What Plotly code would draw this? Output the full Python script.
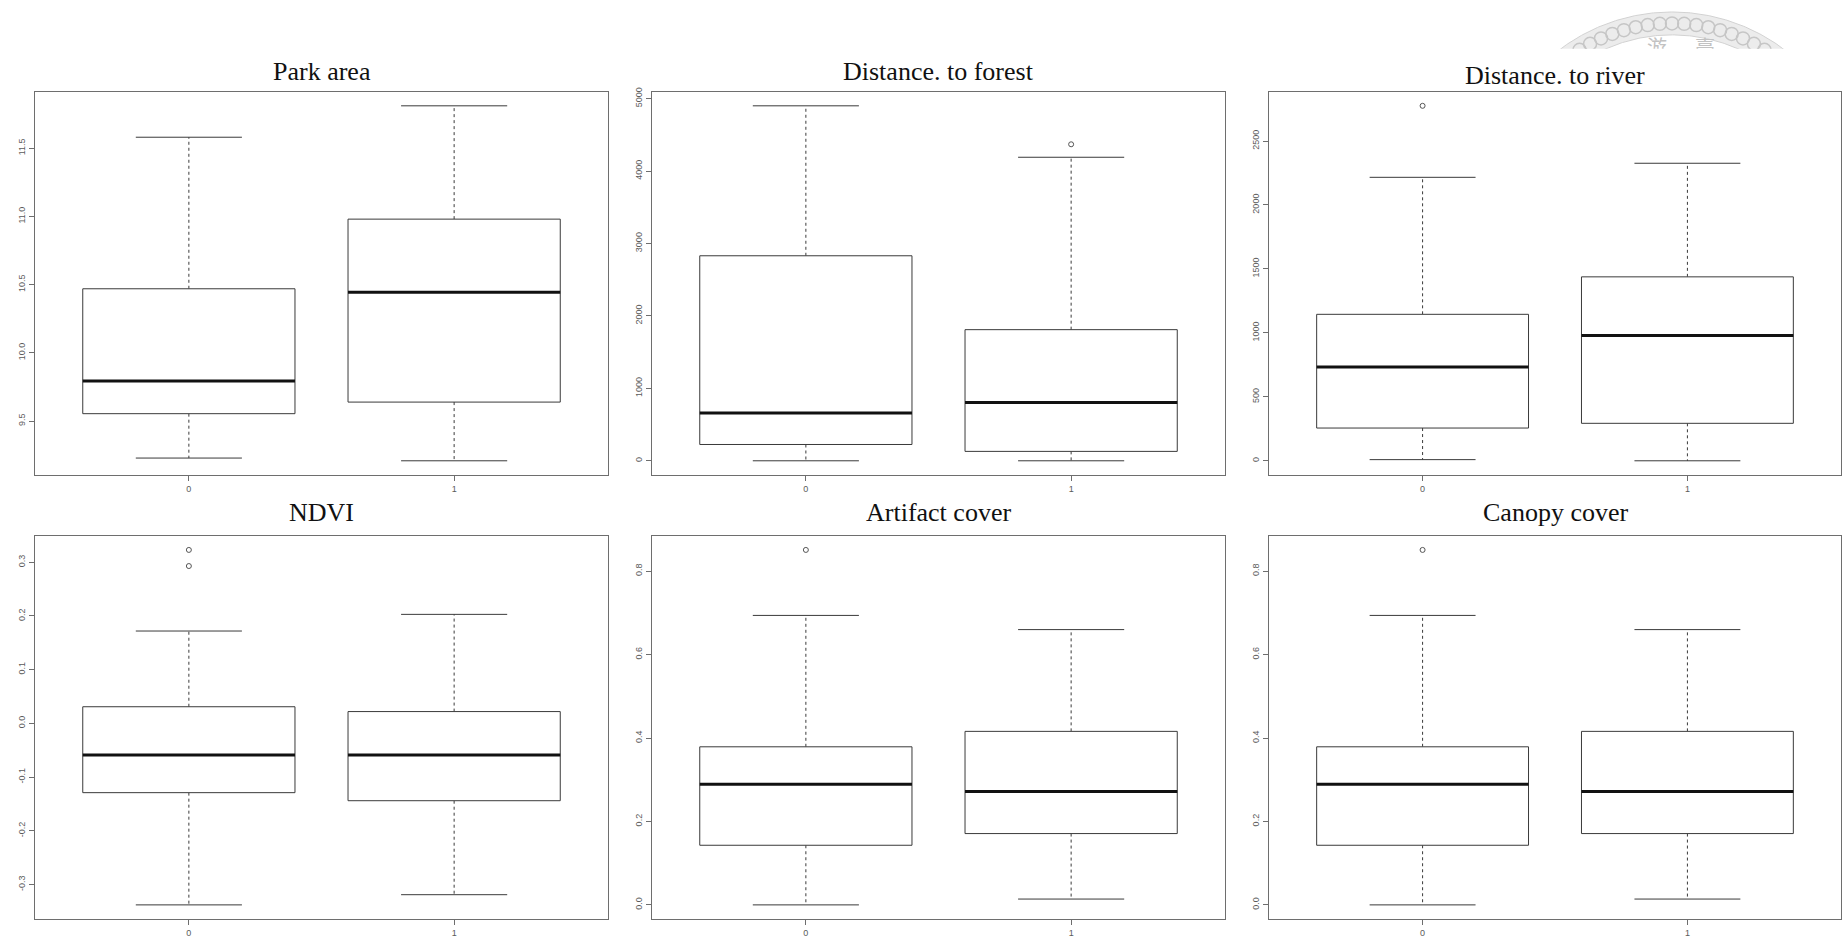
import numpy as np
import plotly.graph_objects as go

W, H = 1843, 941

# ---- data -------------------------------------------------------------
groups = [0, 1]
group_labels = ["0", "1"]

titles = ["Park area", "Distance. to forest", "Distance. to river",
          "NDVI", "Artifact cover", "Canopy cover"]

# five-number summaries per group: [lower whisker, Q1, median, Q3, upper whisker]
park_area = [[9.23, 9.555, 9.795, 10.47, 11.58],
             [9.21, 9.64, 10.445, 10.98, 11.81]]
dist_forest = [[0, 225, 660, 2830, 4900],
               [0, 130, 805, 1810, 4190]]
dist_river = [[9, 256, 733, 1145, 2216],
              [0, 293, 980, 1438, 2326]]
ndvi = [[-0.338, -0.129, -0.059, 0.031, 0.172],
        [-0.319, -0.144, -0.059, 0.022, 0.203]]
artifact_cover = [[0.0, 0.143, 0.289, 0.379, 0.694],
                  [0.014, 0.171, 0.272, 0.416, 0.660]]
canopy_cover = [[0.0, 0.143, 0.289, 0.379, 0.694],
                [0.014, 0.171, 0.272, 0.416, 0.660]]

# points beyond the whiskers, per group
park_area_out = [[], []]
dist_forest_out = [[], [4369]]
dist_river_out = [[2775], []]
ndvi_out = [[0.323, 0.293], []]
artifact_cover_out = [[0.851], []]
canopy_cover_out = [[0.851], []]

# y-axis ticks per panel
park_area_ticks = [9.5, 10.0, 10.5, 11.0, 11.5]
dist_forest_ticks = [0, 1000, 2000, 3000, 4000, 5000]
dist_river_ticks = [0, 500, 1000, 1500, 2000, 2500]
ndvi_ticks = [-0.3, -0.2, -0.1, 0.0, 0.1, 0.2, 0.3]
cover_ticks = [0.0, 0.2, 0.4, 0.6, 0.8]

panels = [
    (park_area, park_area_out, park_area_ticks, "{:.1f}"),
    (dist_forest, dist_forest_out, dist_forest_ticks, "{:.0f}"),
    (dist_river, dist_river_out, dist_river_ticks, "{:.0f}"),
    (ndvi, ndvi_out, ndvi_ticks, "{:.1f}"),
    (artifact_cover, artifact_cover_out, cover_ticks, "{:.1f}"),
    (canopy_cover, canopy_cover_out, cover_ticks, "{:.1f}"),
]

# ---- layout geometry (pixels) -----------------------------------------
cols_px = [(35, 608), (652, 1225), (1269, 1841)]
rows_px = [(88, 473), (534, 919)]
title_base = [84, 84, 88, 527, 527, 527]

BOX_HALF = 0.4
CAP_HALF = 0.2
FRAME = "#6e6e6e"
BOXLINE = "#3a3a3a"
TICKFONT = dict(family="Liberation Sans, Arial, sans-serif", size=9, color="#5a5a5a")

fig = go.Figure()
layout = dict(
    width=W, height=H,
    margin=dict(l=0, r=0, t=0, b=0),
    paper_bgcolor="white", plot_bgcolor="white",
    showlegend=False,
    annotations=[],
)


def px_x(p):
    return p / W


def px_y(p):
    return 1 - p / H


for i, (stats, outs, yt, fmt) in enumerate(panels):
    r, c = divmod(i, 3)
    k = "" if i == 0 else str(i + 1)
    xa, ya = "x" + k, "y" + k

    lo_all = min(min(s[0] for s in stats), min([v for o in outs for v in o] or [1e9]))
    hi_all = max(max(s[4] for s in stats), max([v for o in outs for v in o] or [-1e9]))
    pad = 0.04 * (hi_all - lo_all)

    x0, x1 = cols_px[c]
    y0, y1 = rows_px[r]
    axis_common = dict(showgrid=False, zeroline=False, showline=True, mirror=True,
                       linecolor=FRAME, linewidth=1, ticks="outside", ticklen=5,
                       tickcolor=FRAME, tickwidth=1, tickfont=TICKFONT)
    layout["xaxis" + k] = dict(axis_common, domain=[px_x(x0), px_x(x1)],
                               range=[-0.58, 1.58], tickvals=groups,
                               ticktext=group_labels, anchor=ya)
    layout["yaxis" + k] = dict(axis_common, domain=[px_y(y1), px_y(y0)],
                               range=[lo_all - pad, hi_all + pad], tickvals=yt,
                               ticktext=[fmt.format(v) for v in yt],
                               tickangle=-90, anchor=xa)

    for g, s in zip(groups, stats):
        lo, q1, med, q3, hi = s
        # whiskers (dashed)
        for a, b in ((q3, hi), (q1, lo)):
            fig.add_trace(go.Scatter(x=[g, g], y=[a, b], mode="lines", xaxis=xa, yaxis=ya,
                                     line=dict(color=BOXLINE, width=1, dash="3px,3px"),
                                     hoverinfo="skip"))
        # caps
        for v in (hi, lo):
            fig.add_trace(go.Scatter(x=[g - CAP_HALF, g + CAP_HALF], y=[v, v], mode="lines",
                                     xaxis=xa, yaxis=ya, line=dict(color=BOXLINE, width=1),
                                     hoverinfo="skip"))
        # box
        fig.add_trace(go.Scatter(
            x=[g - BOX_HALF, g + BOX_HALF, g + BOX_HALF, g - BOX_HALF, g - BOX_HALF],
            y=[q1, q1, q3, q3, q1], mode="lines", xaxis=xa, yaxis=ya,
            fill="toself", fillcolor="white",
            line=dict(color=BOXLINE, width=1), hoverinfo="skip"))
        # median
        fig.add_trace(go.Scatter(x=[g - BOX_HALF, g + BOX_HALF], y=[med, med], mode="lines",
                                 xaxis=xa, yaxis=ya, line=dict(color="#111111", width=3),
                                 hoverinfo="skip"))
    for g, o in zip(groups, outs):
        if o:
            fig.add_trace(go.Scatter(x=[g] * len(o), y=o, mode="markers", xaxis=xa, yaxis=ya,
                                     marker=dict(symbol="circle-open", size=5,
                                                 color="#555555", line=dict(width=1)),
                                     hoverinfo="skip"))

    layout["annotations"].append(dict(
        text=titles[i], xref="paper", yref="paper",
        x=px_x((x0 + x1) / 2), y=px_y(title_base[i]), xanchor="center", yanchor="bottom",
        showarrow=False, font=dict(family="Liberation Serif, Times New Roman, serif",
                                   size=26, color="#111111")))

# ---- faint seal in the top-right corner (clipped at its subplot edge) ----
cx, cy, r_out, r_in = 1672, 194, 186, 163
th = np.linspace(np.pi * 0.72, np.pi * 0.28, 160)
ring_x = np.concatenate([cx + r_out * np.cos(th), cx + r_in * np.cos(th[::-1])])
ring_y = np.concatenate([cy - r_out * np.sin(th), cy - r_in * np.sin(th[::-1])])
fig.add_trace(go.Scatter(x=ring_x, y=ring_y, mode="lines", fill="toself",
                         fillcolor="#ececec", line=dict(color="#d2d2d2", width=1),
                         xaxis="x7", yaxis="y7", hoverinfo="skip"))
tm = np.linspace(np.pi * 0.70, np.pi * 0.30, 19)
rm = (r_out + r_in) / 2
fig.add_trace(go.Scatter(x=cx + rm * np.cos(tm), y=cy - rm * np.sin(tm), mode="markers",
                         marker=dict(symbol="circle-open", size=13, color="#c6c6c6",
                                     line=dict(width=1.5)),
                         xaxis="x7", yaxis="y7", hoverinfo="skip", cliponaxis=True))
fig.add_trace(go.Scatter(x=[1657, 1705], y=[46, 46], mode="text", text=["游", "臺"],
                         textfont=dict(family="Noto Sans CJK TC", size=20, color="#c2c2c2"),
                         xaxis="x7", yaxis="y7", hoverinfo="skip", cliponaxis=True))
layout["xaxis7"] = dict(domain=[1500 / W, 1], range=[1500, W], visible=False,
                        anchor="y7", fixedrange=True)
layout["yaxis7"] = dict(domain=[px_y(45), 1], range=[45, 0], visible=False,
                        anchor="x7", fixedrange=True)

fig.update_layout(**layout)
fig.write_html("out.html")
